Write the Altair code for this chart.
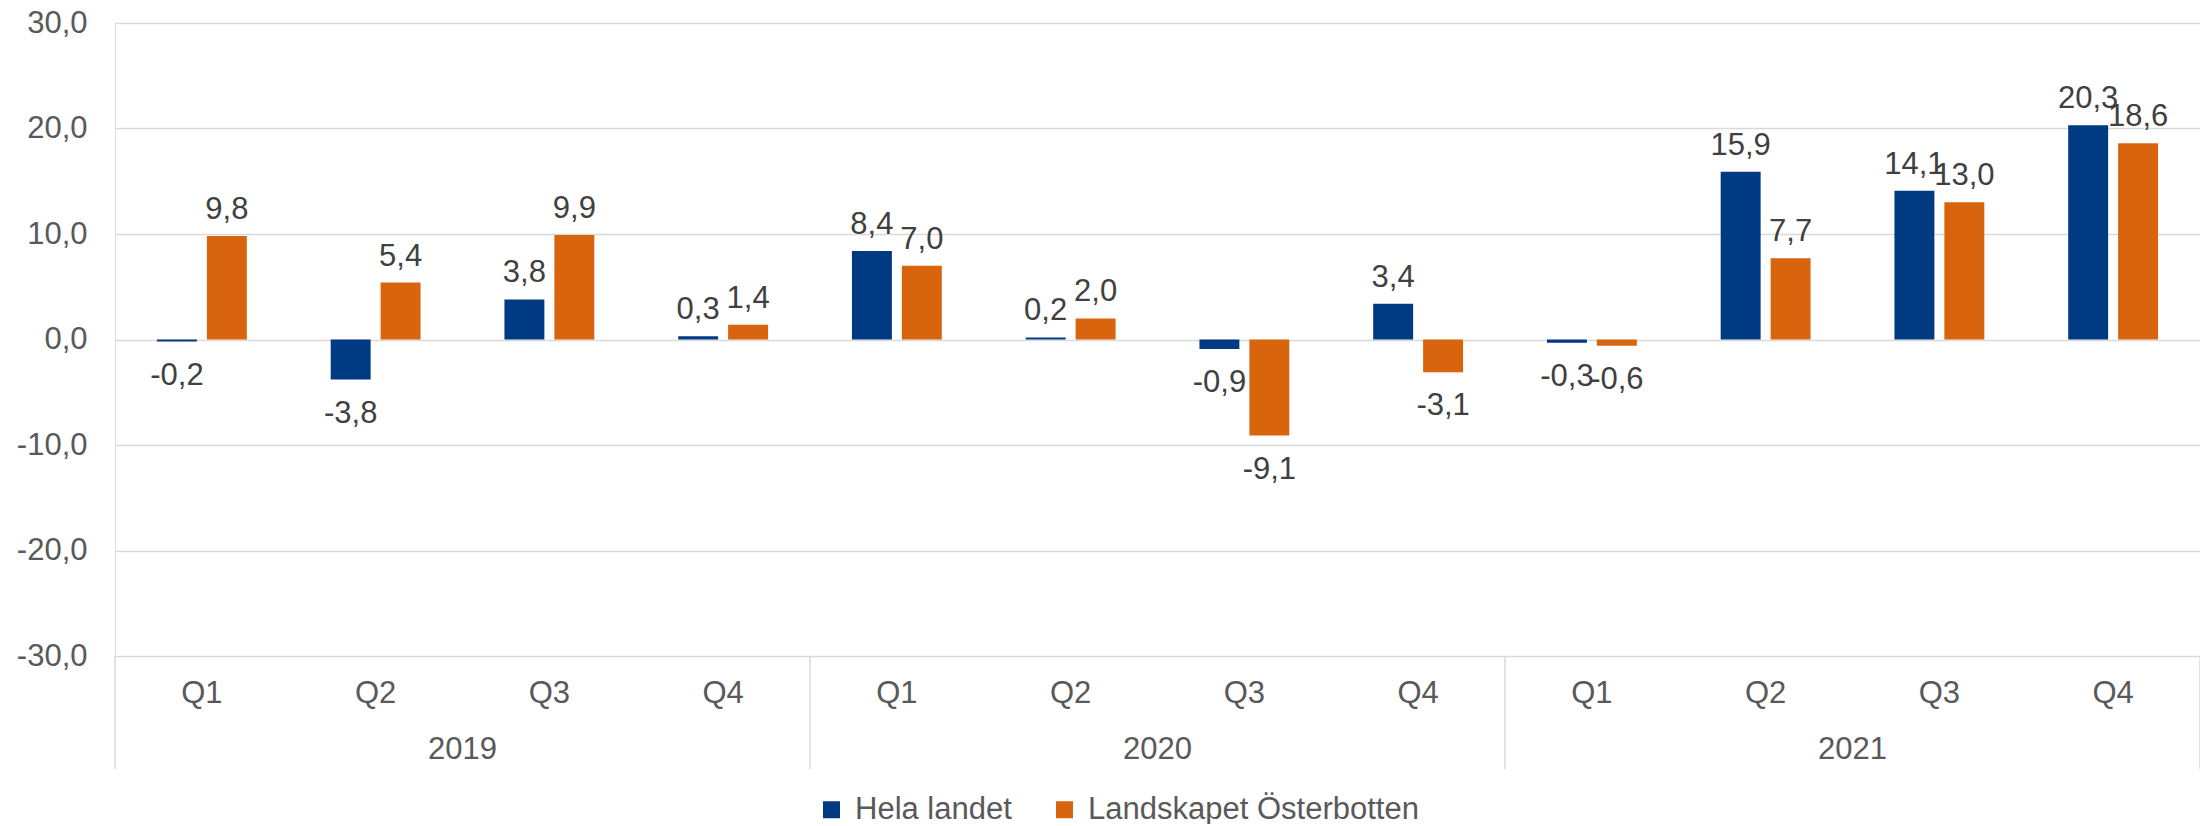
import altair as alt
import pandas as pd

years = ["2019", "2020", "2021"]
quarters = ["Q1", "Q2", "Q3", "Q4"]
series = ["Hela landet", "Landskapet Österbotten"]
hela = [-0.2, -3.8, 3.8, 0.3, 8.4, 0.2, -0.9, 3.4, -0.3, 15.9, 14.1, 20.3]
oster = [9.8, 5.4, 9.9, 1.4, 7.0, 2.0, -9.1, -3.1, -0.6, 7.7, 13.0, 18.6]
colors = ["#003A82", "#D9640E"]
y_ticks = [-30, -20, -10, 0, 10, 20, 30]

cats = [f"{y}-{q}" for y in years for q in quarters]
rows = []
for i, c in enumerate(cats):
    rows.append({"cat": c, "serie": series[0], "value": hela[i]})
    rows.append({"cat": c, "serie": series[1], "value": oster[i]})
df = pd.DataFrame(rows)

W, H = 2085, 633
FONT = "Liberation Sans"
FS = 31
GRID = "#D9D9D9"
AXIS_COL = "#595959"
LABEL_COL = "#404040"

xscale = alt.Scale(domain=cats, paddingInner=0, paddingOuter=0)
yscale = alt.Scale(domain=[-30, 30], nice=False)
oscale = alt.Scale(domain=series, paddingInner=0.2, paddingOuter=0.84)

fmt = "replace(replace(format(datum.value, '.1f'), '.', ','), '\u2212', '-')"

x_main = alt.X(
    "cat:N", scale=xscale, sort=cats, title=None,
    axis=alt.Axis(labelExpr="slice(datum.value, 5)", grid=False, domain=False,
                  ticks=False, tickSize=0, labelPadding=37, labelBaseline="middle",
                  labelFontSize=FS, labelFont=FONT, labelColor=AXIS_COL, labelAngle=0),
)
y_main = alt.Y(
    "value:Q", scale=yscale, title=None,
    axis=alt.Axis(values=y_ticks, labelExpr=fmt, grid=True, gridColor=GRID, gridWidth=1.5,
                  domain=False, ticks=False, tickSize=0, labelPadding=28,
                  labelFontSize=FS, labelFont=FONT, labelColor=AXIS_COL),
)

base = alt.Chart(df)

bars = base.mark_bar().encode(
    x=x_main,
    xOffset=alt.XOffset("serie:N", scale=oscale, sort=series),
    y=y_main,
    color=alt.Color(
        "serie:N", scale=alt.Scale(domain=series, range=colors), sort=series,
        legend=alt.Legend(orient="none", legendX=701, legendY=771, direction="horizontal",
                          title=None, symbolType="square", symbolSize=289,
                          symbolStrokeWidth=0, labelFontSize=FS, labelFont=FONT,
                          labelColor=AXIS_COL, columnPadding=37, labelOffset=8,
                          labelLimit=0),
    ),
)

lbl_common = dict(fontSize=FS, font=FONT, color=LABEL_COL, baseline="alphabetic")
lbl_enc = dict(
    x=alt.X("cat:N", title=None),
    xOffset=alt.XOffset("serie:N", sort=series),
    y=alt.Y("value:Q", title=None),
    text="label:N",
)
pos_labels = base.transform_filter("datum.value >= 0").transform_calculate(
    label=fmt).mark_text(dy=-17, **lbl_common).encode(**lbl_enc)
neg_labels = base.transform_filter("datum.value < 0").transform_calculate(
    label=fmt).mark_text(dy=43, **lbl_common).encode(**lbl_enc)

ydf = pd.DataFrame({"cat": [y + "-Q2" for y in years], "year": years})
year_text = alt.Chart(ydf).mark_text(
    fontSize=FS, font=FONT, color=AXIS_COL, baseline="middle"
).encode(
    x=alt.X("cat:N", bandPosition=1, title=None),
    y=alt.value(H + 94),
    text="year:N",
)

sdf = pd.DataFrame({"cat": [y + "-Q1" for y in years]})
sep_left = alt.Chart(sdf).mark_rule(color=GRID, strokeWidth=1.5).encode(
    x=alt.X("cat:N", bandPosition=0, title=None),
    y=alt.value(H), y2=alt.value(H + 113),
)
edf = pd.DataFrame({"cat": [cats[-1]]})
sep_right = alt.Chart(edf).mark_rule(color=GRID, strokeWidth=1.5).encode(
    x=alt.X("cat:N", bandPosition=1, title=None),
    y=alt.value(H), y2=alt.value(H + 113),
)

chart = alt.layer(bars, pos_labels, neg_labels, year_text, sep_left, sep_right).properties(
    width=W, height=H,
    autosize=alt.AutoSizeParams(type="none"),
    padding={"left": 107, "top": 15, "right": 0, "bottom": 168},
).configure_view(strokeWidth=0, stroke="transparent").configure_axis(
    domain=False, ticks=False
).configure(background="white")

chart.save("out.html", embed_options={"renderer": "svg", "actions": False})
